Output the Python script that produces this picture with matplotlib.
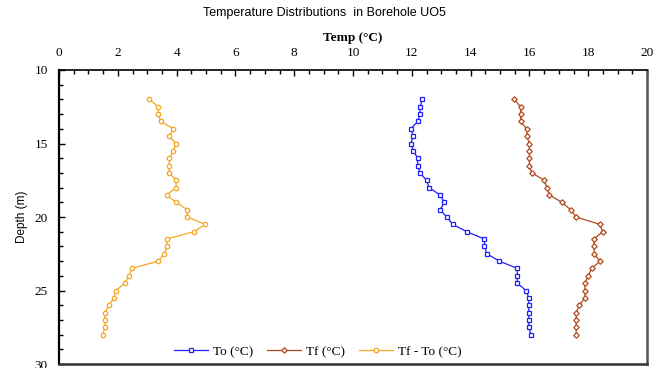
import matplotlib
matplotlib.use("Agg")
import matplotlib.pyplot as plt
from matplotlib.ticker import MultipleLocator

# depth readings (m), every half metre
depth = [12 + 0.5 * i for i in range(33)]

to_temp = [12.36, 12.28, 12.28, 12.2, 11.97, 12.05, 11.97, 12.05, 12.2, 12.2,
           12.28, 12.5, 12.59, 12.96, 13.11, 12.96, 13.19, 13.39, 13.87, 14.47,
           14.47, 14.55, 14.98, 15.59, 15.59, 15.59, 15.88, 15.98, 15.98, 15.98,
           15.98, 15.98, 16.05]
tf_temp = [15.48, 15.7, 15.7, 15.7, 15.91, 15.91, 16.0, 16.0, 16.0, 16.0,
           16.08, 16.51, 16.59, 16.68, 17.1, 17.4, 17.59, 18.4, 18.49, 18.2,
           18.2, 18.2, 18.4, 18.12, 18.0, 17.89, 17.89, 17.89, 17.7, 17.59,
           17.59, 17.59, 17.59]
diff_temp = [3.07, 3.38, 3.38, 3.46, 3.89, 3.75, 3.98, 3.89, 3.75, 3.75,
             3.75, 3.98, 3.98, 3.66, 3.98, 4.36, 4.36, 4.97, 4.59, 3.66,
             3.68, 3.58, 3.38, 2.47, 2.39, 2.24, 1.94, 1.87, 1.7, 1.56,
             1.56, 1.56, 1.49]

serif = "Liberation Serif"
sans = "Liberation Sans"

fig = plt.figure(figsize=(6.56, 3.68), dpi=100)
ax = fig.add_axes([59 / 656, 1 - 364 / 368, 588 / 656, 294 / 368])

ax.plot(to_temp, depth, color="#1f1fff", lw=0.9, marker="s", ms=3.2,
        mfc="white", mec="#1f1fff", mew=0.9, label="To (°C)")
ax.plot(tf_temp, depth, color="#b0491c", lw=0.9, marker="D", ms=2.8,
        mfc="white", mec="#b0491c", mew=0.9, label="Tf (°C)")
ax.plot(diff_temp, depth, color="#f5a623", lw=0.9, marker="o", ms=3.2,
        mfc="white", mec="#f5a623", mew=0.9, label="Tf - To (°C)")

ax.set_xlim(0, 20)
ax.set_ylim(30, 10)
ax.xaxis.tick_top()
ax.xaxis.set_label_position("top")
ax.xaxis.set_major_locator(MultipleLocator(2))
ax.xaxis.set_minor_locator(MultipleLocator(0.5))
ax.yaxis.set_major_locator(MultipleLocator(5))
ax.yaxis.set_minor_locator(MultipleLocator(1))
ax.tick_params(which="both", direction="in", top=True, bottom=False,
               left=True, right=False, width=1)
ax.tick_params(which="major", length=4, labelsize=9.5, pad=8)
ax.tick_params(which="minor", length=3)
for lab in ax.get_xticklabels() + ax.get_yticklabels():
    lab.set_fontfamily(serif)

ax.spines["left"].set_linewidth(1.6)
ax.spines["top"].set_linewidth(1.2)
ax.spines["right"].set_color("#555555")
ax.spines["right"].set_linewidth(1.8)
ax.spines["bottom"].set_color("#333333")
ax.spines["bottom"].set_linewidth(1.8)

ax.set_xlabel("Temp (°C)", fontfamily=serif, fontweight="bold", fontsize=9.5,
              labelpad=4)
ax.set_ylabel("Depth (m)", fontfamily=sans, fontsize=8.5, labelpad=5)
fig.text(0.495, 0.965, "Temperature Distributions  in Borehole UO5",
         ha="center", va="center", fontfamily=sans, fontsize=9)

ax.legend(loc="lower center", bbox_to_anchor=(0.44, -0.02), ncol=3,
          frameon=False, prop={"family": serif, "size": 9.5},
          handlelength=2.6, columnspacing=1.0, handletextpad=0.4)

fig.savefig("out.png", dpi=100)
